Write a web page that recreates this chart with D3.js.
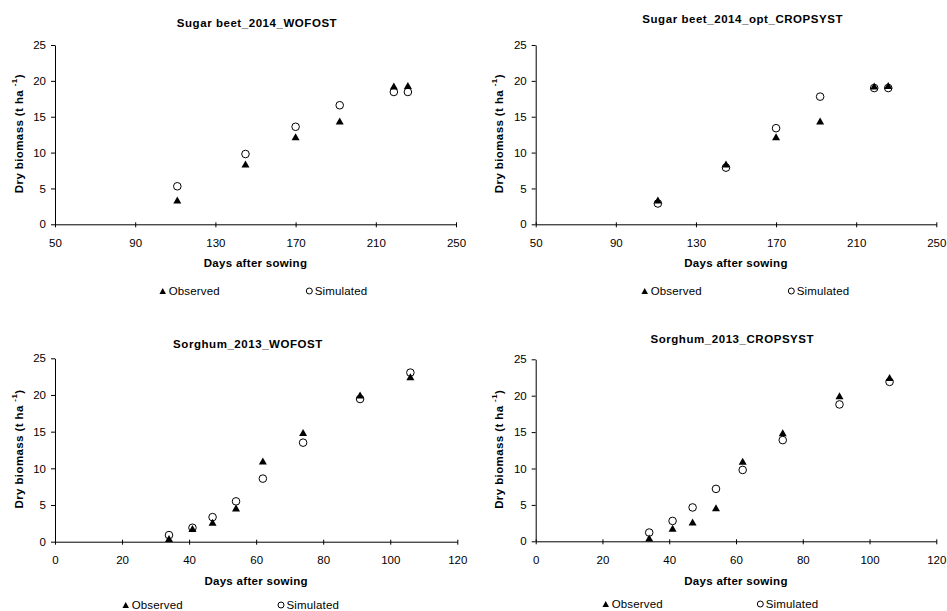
<!DOCTYPE html>
<html>
<head>
<meta charset="utf-8">
<script src="https://cdn.jsdelivr.net/npm/d3@7"></script>
<style>
  html, body { margin: 0; padding: 0; background: #fff; }
  svg { display: block; font-family: "Liberation Sans", Arial, sans-serif; }
</style>
</head>
<body>
<svg id="chart" width="947" height="611"></svg>
<script>
// Sugar beet 2014 sampling dates and dry biomass (t/ha)
const sugarDays = [111, 145, 170, 192, 219, 226];
const sugarObserved = [3.4, 8.4, 12.2, 14.4, 19.3, 19.35];
const sugarSimWofost = [5.3, 9.8, 13.6, 16.6, 18.45, 18.45];
const sugarSimCropsyst = [2.9, 7.9, 13.4, 17.8, 19.0, 19.0];

// Sorghum 2013 sampling dates and dry biomass (t/ha)
const sorghumDays = [34, 41, 47, 54, 62, 74, 91, 106];
const sorghumObserved = [0.45, 1.8, 2.65, 4.6, 11.0, 14.9, 20.0, 22.5];
const sorghumSimWofost = [0.9, 1.9, 3.35, 5.5, 8.6, 13.5, 19.45, 23.05];
const sorghumSimCropsyst = [1.2, 2.8, 4.65, 7.2, 9.8, 13.9, 18.8, 21.9];

// Axis ticks
const sugarXTicks = [50, 90, 130, 170, 210, 250];
const sorghumXTicks = [0, 20, 40, 60, 80, 100, 120];
const yTicks = [0, 5, 10, 15, 20, 25];

const panels = [
  { title: "Sugar beet_2014_WOFOST", days: sugarDays, obs: sugarObserved, sim: sugarSimWofost,
    xDomain: [50, 250], xTicks: sugarXTicks,
    box: { l: 55, r: 456, t: 45, b: 224.3 }, titleXY: [257, 23], ylabX: 18.5, tickY: 243, xTitleY: 263,
    legendY: 291, legTri: 162.7, legCirc: 309.3 },
  { title: "Sugar beet_2014_opt_CROPSYST", days: sugarDays, obs: sugarObserved, sim: sugarSimCropsyst,
    xDomain: [50, 250], xTicks: sugarXTicks,
    box: { l: 535.7, r: 936.3, t: 45, b: 224.3 }, titleXY: [742.7, 19], ylabX: 499, tickY: 243, xTitleY: 263,
    legendY: 291, legTri: 644.7, legCirc: 791.3 },
  { title: "Sorghum_2013_WOFOST", days: sorghumDays, obs: sorghumObserved, sim: sorghumSimWofost,
    xDomain: [0, 120], xTicks: sorghumXTicks,
    box: { l: 55, r: 457.3, t: 358.3, b: 541.7 }, titleXY: [248, 344], ylabX: 18.5, tickY: 560, xTitleY: 581,
    legendY: 605, legTri: 125.7, legCirc: 281 },
  { title: "Sorghum_2013_CROPSYST", days: sorghumDays, obs: sorghumObserved, sim: sorghumSimCropsyst,
    xDomain: [0, 120], xTicks: sorghumXTicks,
    box: { l: 535.7, r: 936.3, t: 359.3, b: 541.3 }, titleXY: [732.3, 339.3], ylabX: 499, tickY: 560, xTitleY: 581,
    legendY: 604, legTri: 605.7, legCirc: 760.3 }
];

const svg = d3.select("#chart");

// Upward triangle centred on its bounding box
function triPath(w, h) {
  return `M0,${-h / 2}L${w / 2},${h / 2}L${-w / 2},${h / 2}Z`;
}

panels.forEach(p => {
  const g = svg.append("g");
  const x = d3.scaleLinear().domain(p.xDomain).range([p.box.l, p.box.r]);
  const y = d3.scaleLinear().domain([0, 25]).range([p.box.b, p.box.t]);

  // Title
  g.append("text")
    .attr("x", p.titleXY[0]).attr("y", p.titleXY[1])
    .attr("text-anchor", "middle").attr("dominant-baseline", "central")
    .style("font-weight", "bold").style("font-size", "11.5px").style("letter-spacing", "0.55px")
    .text(p.title);

  // Y axis
  const yAxis = g.append("g")
    .attr("transform", `translate(${p.box.l},0)`)
    .call(d3.axisLeft(y).tickValues(yTicks).tickSize(4).tickPadding(5).tickSizeOuter(0));
  yAxis.select(".domain").attr("stroke", "#000");
  yAxis.selectAll(".tick line").attr("stroke", "#000");
  yAxis.selectAll(".tick text").style("font-size", "11.5px").style("font-family", "Liberation Sans, Arial, sans-serif").attr("fill", "#000");

  // X axis with ticks crossing the baseline
  const xAxis = g.append("g")
    .attr("transform", `translate(0,${p.box.b})`)
    .call(d3.axisBottom(x).tickValues(p.xTicks).tickSize(3).tickSizeOuter(0).tickFormat(d3.format("d")));
  xAxis.select(".domain").attr("stroke", "#000");
  xAxis.selectAll(".tick line").attr("stroke", "#000").attr("y1", -2).attr("y2", 3);
  xAxis.selectAll(".tick text").remove();
  xAxis.selectAll(".tick").append("text")
    .attr("y", p.tickY - p.box.b).attr("dominant-baseline", "central")
    .attr("text-anchor", "middle").attr("fill", "#000")
    .style("font-size", "11.5px").style("font-family", "Liberation Sans, Arial, sans-serif")
    .text(d => d);

  // Axis titles
  g.append("text")
    .attr("x", (p.box.l + p.box.r) / 2).attr("y", p.xTitleY)
    .attr("text-anchor", "middle").attr("dominant-baseline", "central")
    .style("font-weight", "bold").style("font-size", "11.5px").style("letter-spacing", "0.3px")
    .text("Days after sowing");

  const yl = g.append("text")
    .attr("transform", `translate(${p.ylabX},${(p.box.t + p.box.b) / 2 - 1}) rotate(-90)`)
    .attr("text-anchor", "middle").attr("dominant-baseline", "central")
    .style("font-weight", "bold").style("font-size", "11.5px").style("letter-spacing", "0.4px");
  yl.append("tspan").text("Dry biomass (t ha  ");
  yl.append("tspan").attr("dy", -5).style("font-size", "8px").text("-1");
  yl.append("tspan").attr("dy", 5).text(")");

  // Simulated: open circles
  g.append("g").selectAll("circle")
    .data(p.days.map((d, i) => [d, p.sim[i]]))
    .join("circle")
    .attr("cx", d => x(d[0])).attr("cy", d => y(d[1]))
    .attr("r", 3.8).attr("fill", "#fff").attr("stroke", "#000").attr("stroke-width", 1);

  // Observed: filled triangles
  g.append("g").selectAll("path")
    .data(p.days.map((d, i) => [d, p.obs[i]]))
    .join("path")
    .attr("d", triPath(8, 7))
    .attr("transform", d => `translate(${x(d[0])},${y(d[1])})`)
    .attr("fill", "#000");

  // Legend
  const lg = g.append("g").attr("transform", `translate(0,${p.legendY})`);
  lg.append("path").attr("d", triPath(6.5, 6)).attr("transform", `translate(${p.legTri},0)`).attr("fill", "#000");
  lg.append("text").attr("x", p.legTri + 6).attr("y", 0).attr("dominant-baseline", "central")
    .style("font-size", "11.5px").style("letter-spacing", "0.15px").text("Observed");
  lg.append("circle").attr("cx", p.legCirc).attr("cy", 0).attr("r", 3).attr("fill", "#fff").attr("stroke", "#000");
  lg.append("text").attr("x", p.legCirc + 5.5).attr("y", 0).attr("dominant-baseline", "central")
    .style("font-size", "11.5px").style("letter-spacing", "0.15px").text("Simulated");
});
</script>
</body>
</html>
